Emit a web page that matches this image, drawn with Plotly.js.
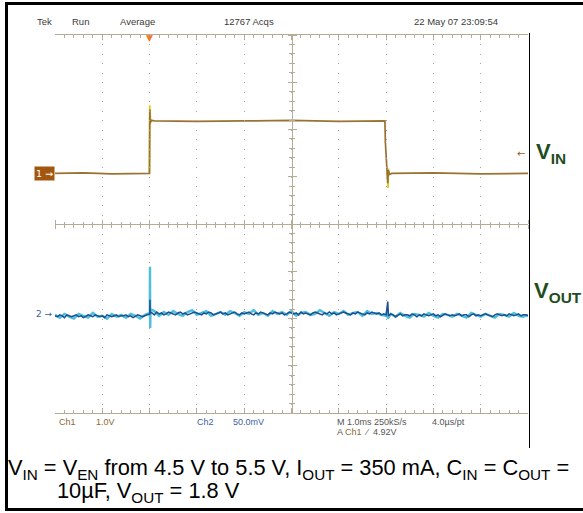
<!DOCTYPE html>
<html>
<head>
<meta charset="utf-8">
<script src="https://cdn.plot.ly/plotly-3.0.1.min.js"></script>
<style>html,body{margin:0;padding:0;background:#fff;}#chart{width:583px;height:513px;}</style>
</head>
<body>
<div id="chart"></div>
<script>
// ---------- DATA ----------
// Ch1 (V_IN), volts, 1 V/div, time in ms (1 ms/div)
var ch1Time  = [0, 0.6, 1.2, 1.9, 1.998, 2.005, 2.012, 2.02, 2.03, 2.05, 2.1, 3, 4, 5, 6, 6.975, 6.985, 7.005, 7.02, 7.035, 7.045, 7.07, 7.12, 8, 9, 10];
var ch1Volts = [4.5, 4.51, 4.49, 4.5, 4.5, 5.85, 5.55, 5.64, 5.6, 5.62, 5.61, 5.6, 5.61, 5.62, 5.6, 5.61, 5.15, 4.7, 4.4, 4.29, 4.57, 4.48, 4.5, 4.51, 4.49, 4.5];
// Ch1 peak-detect excursions (yellow) around the edges
var ch1PeakTime  = [1.995, 2.003, 2.007, 2.013, 2.022, 2.04, null, 7.02, 7.03, 7.04, 7.05, 7.06, 7.08];
var ch1PeakVolts = [4.5, 5.94, 5.31, 5.72, 5.58, 5.61, null, 4.45, 4.55, 4.19, 4.6, 4.47, 4.5];

// Ch2 (V_OUT ac deviation), mV, 50 mV/div
var ch2SampleMs = 0.05;
var ch2Dark = [
 -2,-3,-1,-2,-4,-1,-2,-3,-2,-1, -3,-2,-4,-2,-1,-2,-3,-1,-2,-3,
 -2,-4,-1,-2,-3,-2,-1,-3,-2,-2, -1,-3,-2,-4,-2,-1,-2,-3,-2,-1,
 0,1,-1,2,0,1,-1,0,2,1, 0,-1,1,2,0,1,-1,0,1,2,
 1,0,-1,1,0,2,1,-1,0,1, 2,0,1,-1,0,1,2,0,-1,1,
 0,1,2,0,-1,1,0,2,1,0, -1,1,0,2,1,0,1,-1,0,2,
 1,0,1,-1,2,0,1,0,-1,1, 2,1,0,-1,1,0,2,0,1,-1,
 0,1,2,1,0,-1,1,0,2,1, 0,-1,1,0,2,1,0,1,-1,0,
 -1,-2,0,-1,-3,-1,0,-2,-1,-1, -2,0,-1,-3,-1,-2,0,-1,-2,-1,
 0,-2,-1,-3,-1,0,-1,-2,-1,-2, -1,0,-2,-1,-1,-3,-1,0,-2,-1,
 -2,-1,0,-1,-2,-3,-1,0,-1,-2, -1,-2,0,-1,-2,-1,0,-2,-1,-1,
 -2];
var ch2CyanSampleMs = 0.1;
var ch2Cyan = [
 -1,-4,0,-3,-5,0,-2,-4,1,-3, -2,-5,0,-3,-1,-4,0,-2,-5,-1,
 1,3,-2,2,-1,3,0,-2,2,4, -1,1,3,-2,0,2,-1,3,1,-2,
 2,0,4,-1,1,-2,3,0,2,-1, 3,-2,1,2,-1,0,4,1,-2,2,
 0,3,-1,1,2,-2,3,0,1,-1,
 -2,0,-3,1,-2,-4,0,-1,-3,1, -2,-4,0,-1,-3,0,-2,-4,1,-1,
 -3,0,-2,-4,0,-1,-3,1,-2,-3, -1];
// transient spikes on Ch2
var darkSpikeTime = [2.004, 2.008, 2.012, 7.035, 7.04];
var darkSpikeMv   = [-1, 15, 2, 13, -2];
var cyanSpikeTime = [2.004, 2.008, 2.013, 2.02, 7.03, 7.036];
var cyanSpikeMv   = [-3, 50, -15, 5, 4, -5];

// scope settings
var ch1VoltsPerDiv = 1.0, ch1RefVolts = 4.5, ch1RefDiv = 1.072;
var ch2MvPerDiv = 50.0, ch2RefMv = 0, ch2RefDiv = -1.903;
var triggerTimeMs = 2.0, triggerLevelV = 4.92;

// ---------- helpers ----------
function merge(base, step, spT, spV){
  var pts = [];
  for (var i=0;i<base.length;i++) pts.push([+(i*step).toFixed(4), base[i]]);
  for (var j=0;j<spT.length;j++) pts.push([spT[j], spV[j]]);
  pts.sort(function(a,b){return a[0]-b[0];});
  return {x: pts.map(function(p){return p[0];}), y: pts.map(function(p){return p[1];})};
}
var dark = merge(ch2Dark, ch2SampleMs, darkSpikeTime, darkSpikeMv);
var cyan = merge(ch2Cyan, ch2CyanSampleMs, cyanSpikeTime, cyanSpikeMv);

var L=55, T=35, W=473, H=378;
function px(x){return (x-L)/W;}
function py(y){return (T+H-y)/H;}

var tickCol = '#b3ac96';
function borderAxis(range, extra){
  var a = {range:range, dtick:1, tick0:range[0], showgrid:true, gridcolor:'#a8a8a8', gridwidth:1,
    griddash:'1px,8.46px', zeroline:false, showline:true, linecolor:tickCol, linewidth:1,
    mirror:'ticks', ticks:'inside', ticklen:5, tickcolor:tickCol, tickwidth:1, showticklabels:false,
    fixedrange:true,
    minor:{dtick:0.2, ticks:'inside', ticklen:3, tickcolor:tickCol, tickwidth:1, showgrid:false}};
  for (var k in extra) a[k]=extra[k];
  return a;
}
function centerAxis(range, extra){
  var a = {range:range, dtick:1, tick0:range[0], showgrid:false, zeroline:false, showline:true,
    linecolor:tickCol, linewidth:1, ticks:'outside', ticklen:4, tickcolor:tickCol, tickwidth:1,
    showticklabels:false, fixedrange:true, anchor:'free', position:0.5,
    minor:{dtick:0.2, ticks:'outside', ticklen:2.5, tickcolor:tickCol, tickwidth:1, showgrid:false}};
  for (var k in extra) a[k]=extra[k];
  return a;
}

var ch1Range = [ch1RefVolts-(4+ch1RefDiv)*ch1VoltsPerDiv, ch1RefVolts+(4-ch1RefDiv)*ch1VoltsPerDiv];
var ch2Range = [ch2RefMv-(4+ch2RefDiv)*ch2MvPerDiv, ch2RefMv+(4-ch2RefDiv)*ch2MvPerDiv];

var traces = [
  {x:[null], y:[null], xaxis:'x2', yaxis:'y4', hoverinfo:'skip'},
  {x:[null], y:[null], xaxis:'x3', yaxis:'y5', hoverinfo:'skip'},
  {x:ch1PeakTime, y:ch1PeakVolts, xaxis:'x', yaxis:'y2', mode:'lines', line:{color:'#d8d11e', width:1.8}, connectgaps:false, hoverinfo:'skip'},
  {x:ch1Time, y:ch1Volts, xaxis:'x', yaxis:'y2', mode:'lines', line:{color:'#9a7232', width:1.7}, hoverinfo:'skip'},
  {x:cyan.x, y:cyan.y, xaxis:'x', yaxis:'y3', mode:'lines', line:{color:'#4cc0da', width:2.4}, hoverinfo:'skip'},
  {x:dark.x, y:dark.y, xaxis:'x', yaxis:'y3', mode:'lines', line:{color:'#1d4f93', width:1.5}, hoverinfo:'skip'}
];

function ann(x, y, text, opt){
  var p = {xref:'paper', yref:'paper', x:px(x), y:py(y), text:text, showarrow:false,
    xanchor:'left', yanchor:'middle', font:{family:'Liberation Sans, Arial, sans-serif', size:9.5, color:'#3a3a3a'}};
  for (var k in opt) p[k]=opt[k];
  return p;
}
var brown = '#8a6a38', blue = '#3d639e', grey = '#555555';
var annotations = [
  ann(35, 22, 'Tek'), ann(70, 22, 'Run'), ann(118, 22, 'Average'),
  ann(222, 22, '12767 Acqs'), ann(412, 22, '22 May 07 23:09:54'),
  ann(57, 422, 'Ch1', {font:{family:'Liberation Sans, Arial', size:9, color:brown}}),
  ann(94, 422, '1.0V', {font:{family:'Liberation Sans, Arial', size:9, color:brown}}),
  ann(195, 422, 'Ch2', {font:{family:'Liberation Sans, Arial', size:9, color:blue}}),
  ann(231, 422, '50.0mV', {font:{family:'Liberation Sans, Arial', size:9, color:blue}}),
  ann(335, 422, 'M 1.0ms 250kS/s', {font:{family:'Liberation Sans, Arial', size:9, color:grey}}),
  ann(430, 422, '4.0µs/pt', {font:{family:'Liberation Sans, Arial', size:9, color:grey}}),
  ann(335, 432, 'A <span style="color:'+brown+'">Ch1</span>  ⁄  4.92V', {font:{family:'Liberation Sans, Arial', size:9, color:grey}}),
  {xref:'x', yref:'paper', x:triggerTimeMs, y:1, yanchor:'top', xanchor:'center', yshift:4, text:'▼', showarrow:false,
   font:{family:'DejaVu Sans', size:9, color:'#f0782a'}},
  {xref:'paper', yref:'y2', x:1, y:triggerLevelV, xanchor:'right', yanchor:'middle', xshift:-1, text:'←', showarrow:false,
   font:{family:'DejaVu Sans', size:10, color:'#9a5a20'}},
  {xref:'paper', yref:'y2', x:0, y:ch1RefVolts, xanchor:'right', yanchor:'middle', text:'1 →', showarrow:false,
   bgcolor:'#a3560e', borderpad:1, font:{family:'DejaVu Sans', size:9.5, color:'#ffffff'}},
  {xref:'paper', yref:'y3', x:0, y:ch2RefMv, xanchor:'right', yanchor:'middle', text:'2 →', showarrow:false,
   font:{family:'DejaVu Sans', size:9, color:blue}},
  ann(534, 153, '<b>V<sub>IN</sub></b>', {font:{family:'Liberation Sans, Arial', size:22, color:'#1f4d1f'}}),
  ann(532, 292, '<b>V<sub>OUT</sub></b>', {font:{family:'Liberation Sans, Arial', size:22, color:'#1f4d1f'}}),
  ann(6, 469, 'V<sub>IN</sub> = V<sub>EN</sub> from 4.5 V to 5.5 V, I<sub>OUT</sub> = 350 mA, C<sub>IN</sub> = C<sub>OUT</sub> =',
      {font:{family:'Liberation Sans, Arial', size:21.8, color:'#000000'}}),
  ann(55, 492, '10µF, V<sub>OUT</sub> = 1.8 V', {font:{family:'Liberation Sans, Arial', size:21.8, color:'#000000'}})
];

var shapes = [
  {type:'line', xref:'paper', yref:'paper', x0:px(6.5), x1:px(6.5), y0:py(2), y1:py(511), line:{color:'#000', width:3}},
  {type:'line', xref:'paper', yref:'paper', x0:px(5), x1:px(583), y0:py(3.5), y1:py(3.5), line:{color:'#000', width:3}},
  {type:'line', xref:'paper', yref:'paper', x0:px(5), x1:px(583), y0:py(509.5), y1:py(509.5), line:{color:'#000', width:3}},
  {type:'line', xref:'paper', yref:'paper', x0:px(529.5), x1:px(529.5), y0:py(33), y1:py(448), line:{color:'#000', width:1}}
];

var layout = {
  width:583, height:513, margin:{l:L, r:583-L-W, t:T, b:513-T-H, pad:0},
  paper_bgcolor:'#ffffff', plot_bgcolor:'rgba(0,0,0,0)', showlegend:false,
  xaxis: borderAxis([0,10], {}),
  yaxis: borderAxis([-4,4], {}),
  xaxis2: centerAxis([0,10], {overlaying:'x', side:'bottom'}),
  xaxis3: centerAxis([0,10], {overlaying:'x', side:'top'}),
  yaxis4: centerAxis([-4,4], {overlaying:'y', side:'left'}),
  yaxis5: centerAxis([-4,4], {overlaying:'y', side:'right'}),
  yaxis2: {overlaying:'y', range:ch1Range, visible:false, fixedrange:true},
  yaxis3: {overlaying:'y', range:ch2Range, visible:false, fixedrange:true},
  annotations: annotations,
  shapes: shapes
};

Plotly.newPlot('chart', traces, layout, {staticPlot:true, displayModeBar:false});
</script>
</body>
</html>
